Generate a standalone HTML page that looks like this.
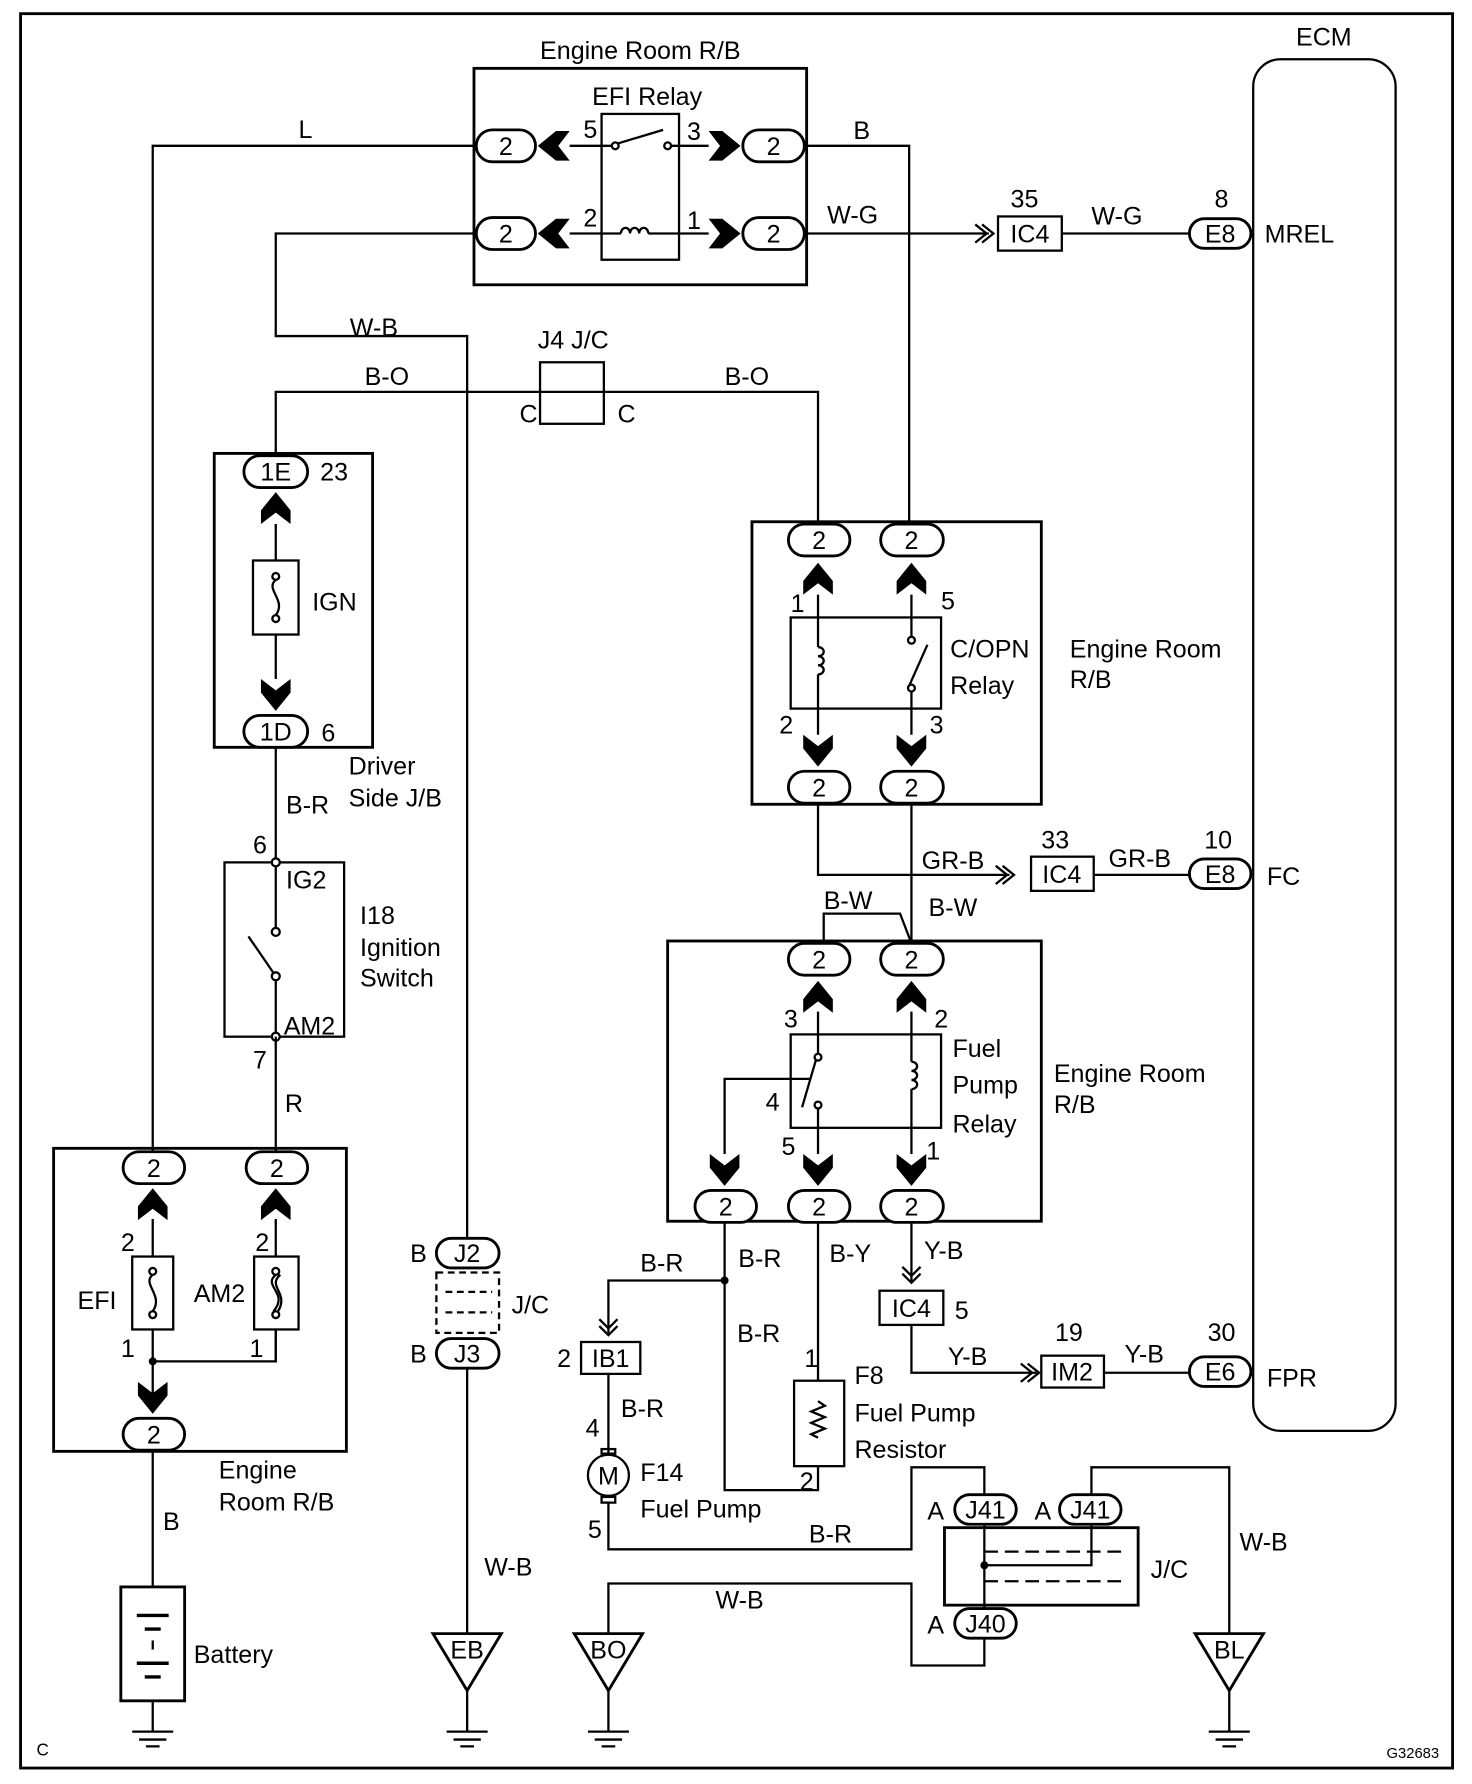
<!DOCTYPE html>
<html><head><meta charset="utf-8"><style>
html,body{margin:0;padding:0;background:#fff;}
svg{display:block}
text{font-family:"Liberation Sans",sans-serif;font-size:22px;fill:#000}
.m{text-anchor:middle}
</style></head><body>
<svg width="1472" height="1784" viewBox="0 0 1292 1566" xmlns="http://www.w3.org/2000/svg">
<defs>
<symbol id="cu" viewBox="-14 -14 28 28" overflow="visible"><polygon points="0,-14 -13,2 -13,14 0,4 13,14 13,2" fill="#000"/></symbol>
<symbol id="cd" viewBox="-14 -14 28 28" overflow="visible"><polygon points="0,14 -13,-2 -13,-14 0,-4 13,-14 13,-2" fill="#000"/></symbol>
<symbol id="cl" viewBox="-14 -14 28 28" overflow="visible"><polygon points="-14,0 2,-13 14,-13 4,0 14,13 2,13" fill="#000"/></symbol>
<symbol id="cr" viewBox="-14 -14 28 28" overflow="visible"><polygon points="14,0 -2,-13 -14,-13 -4,0 -14,13 -2,13" fill="#000"/></symbol>
</defs>
<g fill="none" stroke="#000" stroke-width="2">
<rect x="18" y="12" width="1257" height="1540" stroke-width="2.5"/>
<!-- ECM -->
<rect x="1100" y="52" width="125" height="1204" rx="24"/>
<!-- top EFI relay box -->
<rect x="416" y="60" width="292" height="190" stroke-width="2.5"/>
<rect x="528" y="100" width="68" height="128"/>
<line x1="500" y1="128" x2="537" y2="128"/><circle cx="540" cy="128" r="3"/><line x1="542" y1="126" x2="582" y2="114"/><circle cx="586" cy="128" r="3"/><line x1="589" y1="128" x2="622" y2="128"/>
<line x1="500" y1="205" x2="545" y2="205"/><path d="M545 205 a4 5 0 0 1 8 0 a4 5 0 0 1 8 0 a4 5 0 0 1 8 0"/><line x1="569" y1="205" x2="622" y2="205"/>
<!-- wires top -->
<polyline points="418,128 134,128 134,1011"/>
<polyline points="418,205 242,205 242,295 410,295 410,1087"/>
<polyline points="706,128 798,128 798,460"/>
<polyline points="706,205 868,205"/>
<polyline points="856,197 866,205 856,213"/><polyline points="862,197 872,205 862,213"/>
<line x1="932" y1="205" x2="1044" y2="205"/>
<rect x="876" y="190" width="56" height="30"/>
<!-- J4 -->
<polyline points="242,400 242,344 718,344 718,460"/>
<rect x="474" y="318" width="56" height="54"/>
<!-- driver side J/B -->
<rect x="188" y="398" width="139" height="258" stroke-width="2.5"/>
<line x1="242" y1="460" x2="242" y2="596"/>
<rect x="222" y="492" width="40" height="65" fill="#fff"/>
<circle cx="242" cy="506" r="3"/><circle cx="242" cy="543" r="3"/><path d="M242 509 c-10 8 10 18 0 31"/>
<line x1="242" y1="656" x2="242" y2="757"/>
<!-- ignition switch -->
<rect x="197" y="757" width="105" height="153"/>
<line x1="242" y1="757" x2="242" y2="815"/><circle cx="242" cy="818" r="3.5"/>
<line x1="218" y1="822" x2="240" y2="854"/><circle cx="242" cy="857" r="3.5"/>
<line x1="242" y1="860" x2="242" y2="910"/>
<circle cx="242" cy="757" r="3.5" fill="#fff"/><circle cx="242" cy="910" r="3.5" fill="#fff"/>
<line x1="242" y1="910" x2="242" y2="1011"/>
<!-- left fuse block -->
<rect x="47" y="1008" width="257" height="266" stroke-width="2.5"/>
<line x1="134" y1="1070" x2="134" y2="1240"/><line x1="242" y1="1070" x2="242" y2="1195"/>
<rect x="116" y="1103" width="36" height="64" fill="#fff"/>
<circle cx="134" cy="1116" r="3"/><circle cx="134" cy="1154" r="3"/><path d="M134 1119 c-10 8 10 18 0 32"/>
<rect x="223" y="1103" width="39" height="64" fill="#fff"/>
<circle cx="242" cy="1116" r="3"/><circle cx="242" cy="1154" r="3"/><path d="M242 1119 c-12 10 12 16 -2 32 M246 1119 c-12 10 8 16 -2 32"/>
<polyline points="242,1167 242,1195 134,1195"/>
<line x1="134" y1="1273" x2="134" y2="1393"/>
<rect x="106" y="1393" width="56" height="100" stroke-width="2.5"/>
<line x1="120" y1="1418" x2="148" y2="1418" stroke-width="3"/><line x1="127" y1="1430" x2="141" y2="1430" stroke-width="3"/>
<line x1="134" y1="1440" x2="134" y2="1448"/>
<line x1="120" y1="1460" x2="148" y2="1460" stroke-width="3"/><line x1="127" y1="1472" x2="141" y2="1472" stroke-width="3"/>
<line x1="134" y1="1493" x2="134" y2="1520"/>
<!-- J2/J3 -->
<rect x="383" y="1117" width="55" height="53" stroke-dasharray="6,4"/>
<line x1="391" y1="1134" x2="432" y2="1134" stroke-dasharray="6,4"/><line x1="391" y1="1152" x2="432" y2="1152" stroke-dasharray="6,4"/>
<line x1="410" y1="1201" x2="410" y2="1434"/>
<!-- C/OPN relay box -->
<rect x="660" y="458" width="254" height="248" stroke-width="2.5"/>
<line x1="718" y1="522" x2="718" y2="645"/><line x1="800" y1="522" x2="800" y2="645"/>
<rect x="694" y="542" width="132" height="80" fill="#fff"/>
<line x1="718" y1="542" x2="718" y2="568"/><path d="M718 568 a5 4 0 0 1 0 8 a5 4 0 0 1 0 8 a5 4 0 0 1 0 8"/><line x1="718" y1="592" x2="718" y2="622"/>
<line x1="800" y1="542" x2="800" y2="559"/><circle cx="800" cy="562" r="3"/><line x1="798" y1="602" x2="814" y2="566"/><circle cx="800" cy="604" r="3"/><line x1="800" y1="607" x2="800" y2="622"/>
<polyline points="718,705 718,768 886,768"/>
<polyline points="874,760 884,768 874,776"/><polyline points="880,760 890,768 880,776"/>
<rect x="905" y="752" width="55" height="30"/>
<line x1="960" y1="768" x2="1044" y2="768"/>
<line x1="800" y1="705" x2="800" y2="828"/>
<polyline points="723,828 723,802 790,802 800,828"/>
<!-- fuel pump relay box -->
<rect x="586" y="826" width="328" height="246" stroke-width="2.5"/>
<line x1="718" y1="888" x2="718" y2="1013"/><line x1="800" y1="888" x2="800" y2="1013"/>
<rect x="694" y="908" width="132" height="82" fill="#fff"/>
<line x1="718" y1="908" x2="718" y2="925"/><circle cx="718" cy="928" r="3"/><line x1="704" y1="972" x2="716" y2="931"/><circle cx="718" cy="970" r="3"/><line x1="718" y1="973" x2="718" y2="990"/>
<polyline points="712,947 636,947 636,1013"/>
<line x1="800" y1="908" x2="800" y2="932"/><path d="M800 932 a5 4 0 0 1 0 8 a5 4 0 0 1 0 8 a5 4 0 0 1 0 8"/><line x1="800" y1="956" x2="800" y2="990"/>
<!-- below FP relay -->
<polyline points="636,1073 636,1308 718,1308 718,1287"/>
<polyline points="636,1124 534,1124 534,1172"/>
<polyline points="526,1158 534,1166 542,1158"/><polyline points="526,1164 534,1172 542,1164"/>
<rect x="510" y="1178" width="52" height="28"/>
<line x1="534" y1="1206" x2="534" y2="1277"/>
<circle cx="534" cy="1295" r="18"/>
<rect x="528" y="1272" width="12" height="4"/><rect x="528" y="1314" width="12" height="5"/>
<polyline points="534,1319 534,1360 800,1360 800,1288 864,1288 864,1312"/>
<line x1="718" y1="1073" x2="718" y2="1212"/>
<rect x="697" y="1212" width="44" height="75"/>
<path d="M718 1230 l6 4 l-12 5 l12 5 l-12 5 l12 5 l-12 5 l6 3"/>
<line x1="800" y1="1073" x2="800" y2="1126"/>
<polyline points="792,1112 800,1120 808,1112"/><polyline points="792,1118 800,1126 808,1118"/>
<rect x="772" y="1133" width="56" height="30"/>
<polyline points="800,1163 800,1205 910,1205"/>
<polyline points="896,1197 906,1205 896,1213"/><polyline points="902,1197 912,1205 902,1213"/>
<rect x="914" y="1190" width="55" height="28"/>
<line x1="969" y1="1205" x2="1044" y2="1205"/>
<!-- J/C bottom -->
<rect x="829" y="1341" width="170" height="68" stroke-width="2.5"/>
<line x1="864" y1="1338" x2="864" y2="1412"/>
<line x1="864" y1="1362" x2="990" y2="1362" stroke-dasharray="12,6"/>
<line x1="864" y1="1388" x2="990" y2="1388" stroke-dasharray="12,6"/>
<polyline points="958,1312 958,1288 1079,1288 1079,1434"/>
<polyline points="958,1338 958,1374 864,1374"/>
<polyline points="864,1438 864,1462 800,1462 800,1390 534,1390 534,1434"/>
<!-- triangles & grounds -->
<polygon points="380,1434 440,1434 410,1484" stroke-width="2.5"/>
<polygon points="504,1434 564,1434 534,1484" stroke-width="2.5"/>
<polygon points="1049,1434 1109,1434 1079,1484" stroke-width="2.5"/>
<line x1="410" y1="1484" x2="410" y2="1520"/><line x1="534" y1="1484" x2="534" y2="1520"/><line x1="1079" y1="1484" x2="1079" y2="1520"/>
<g stroke-width="2">
<path d="M116 1520h36M122 1527h24M128 1533h12"/>
<path d="M392 1520h36M398 1527h24M404 1533h12"/>
<path d="M516 1520h36M522 1527h24M528 1533h12"/>
<path d="M1061 1520h36M1067 1527h24M1073 1533h12"/>
</g>
<!-- pills -->
<g fill="#fff" stroke-width="2.5">
<rect x="418" y="114" width="52" height="28" rx="14"/><rect x="418" y="191" width="52" height="28" rx="14"/>
<rect x="652" y="114" width="54" height="28" rx="14"/><rect x="652" y="191" width="54" height="28" rx="14"/>
<rect x="1044" y="192" width="54" height="26" rx="13"/>
<rect x="214" y="400" width="56" height="28" rx="14"/><rect x="214" y="628" width="56" height="28" rx="14"/>
<rect x="108" y="1011" width="54" height="28" rx="14"/><rect x="216" y="1011" width="54" height="28" rx="14"/>
<rect x="108" y="1245" width="54" height="28" rx="14"/>
<rect x="383" y="1087" width="55" height="26" rx="13"/><rect x="383" y="1175" width="55" height="26" rx="13"/>
<rect x="692" y="460" width="54" height="28" rx="14"/><rect x="773" y="460" width="55" height="28" rx="14"/>
<rect x="692" y="677" width="54" height="28" rx="14"/><rect x="773" y="677" width="55" height="28" rx="14"/>
<rect x="1044" y="754" width="54" height="26" rx="13"/>
<rect x="692" y="828" width="54" height="28" rx="14"/><rect x="773" y="828" width="55" height="28" rx="14"/>
<rect x="610" y="1045" width="54" height="28" rx="14"/><rect x="692" y="1045" width="54" height="28" rx="14"/><rect x="773" y="1045" width="55" height="28" rx="14"/>
<rect x="1044" y="1191" width="54" height="26" rx="13"/>
<rect x="838" y="1312" width="54" height="26" rx="13"/><rect x="930" y="1312" width="54" height="26" rx="13"/>
<rect x="838" y="1412" width="54" height="26" rx="13"/>
</g>
</g>
<g fill="#000">
<circle cx="134" cy="1195" r="3.5"/><circle cx="636" cy="1124" r="3.5"/><circle cx="864" cy="1374" r="3.5"/>
</g>
<!-- chevrons -->
<use href="#cl" x="472" y="114" width="28" height="28"/><use href="#cl" x="472" y="191" width="28" height="28"/>
<use href="#cr" x="622" y="114" width="28" height="28"/><use href="#cr" x="622" y="191" width="28" height="28"/>
<use href="#cu" x="228" y="432" width="28" height="28"/><use href="#cd" x="228" y="596" width="28" height="28"/>
<use href="#cu" x="120" y="1043" width="28" height="28"/><use href="#cu" x="228" y="1043" width="28" height="28"/>
<use href="#cd" x="120" y="1213" width="28" height="28"/>
<use href="#cu" x="704" y="494" width="28" height="28"/><use href="#cu" x="786" y="494" width="28" height="28"/>
<use href="#cd" x="704" y="645" width="28" height="28"/><use href="#cd" x="786" y="645" width="28" height="28"/>
<use href="#cu" x="704" y="861" width="28" height="28"/><use href="#cu" x="786" y="861" width="28" height="28"/>
<use href="#cd" x="622" y="1013" width="28" height="28"/><use href="#cd" x="704" y="1013" width="28" height="28"/><use href="#cd" x="786" y="1013" width="28" height="28"/>
<!-- pill labels -->
<g class="m">
<text x="444" y="136" class="m">2</text><text x="444" y="213" class="m">2</text>
<text x="679" y="136" class="m">2</text><text x="679" y="213" class="m">2</text>
<text x="1071" y="213" class="m">E8</text>
<text x="242" y="422" class="m">1E</text><text x="242" y="650" class="m">1D</text>
<text x="135" y="1033" class="m">2</text><text x="243" y="1033" class="m">2</text>
<text x="135" y="1267" class="m">2</text>
<text x="410" y="1108" class="m">J2</text><text x="410" y="1196" class="m">J3</text>
<text x="719" y="482" class="m">2</text><text x="800" y="482" class="m">2</text>
<text x="719" y="699" class="m">2</text><text x="800" y="699" class="m">2</text>
<text x="1071" y="775" class="m">E8</text>
<text x="719" y="850" class="m">2</text><text x="800" y="850" class="m">2</text>
<text x="637" y="1067" class="m">2</text><text x="719" y="1067" class="m">2</text><text x="800" y="1067" class="m">2</text>
<text x="1071" y="1212" class="m">E6</text>
<text x="865" y="1333" class="m">J41</text><text x="957" y="1333" class="m">J41</text>
<text x="865" y="1433" class="m">J40</text>
<text x="904" y="213" class="m">IC4</text><text x="932" y="775" class="m">IC4</text>
<text x="800" y="1156" class="m">IC4</text><text x="941" y="1212" class="m">IM2</text>
<text x="536" y="1200" class="m">IB1</text>
<text x="534" y="1303" class="m">M</text>
<text x="410" y="1456" class="m">EB</text><text x="534" y="1456" class="m">BO</text><text x="1079" y="1456" class="m">BL</text>
</g>
<!-- labels -->
<text x="562" y="52" class="m">Engine Room R/B</text>
<text x="568" y="92" class="m">EFI Relay</text>
<text x="1162" y="40" class="m">ECM</text>
<text x="512" y="121">5</text><text x="603" y="123">3</text><text x="512" y="199">2</text><text x="603" y="201">1</text>
<text x="262" y="121">L</text><text x="749" y="122">B</text>
<text x="726" y="196">W-G</text><text x="958" y="197">W-G</text>
<text x="887" y="182">35</text><text x="1066" y="182">8</text><text x="1110" y="213">MREL</text>
<text x="307" y="295">W-B</text>
<text x="472" y="306">J4 J/C</text>
<text x="320" y="338">B-O</text><text x="636" y="338">B-O</text>
<text x="456" y="371">C</text><text x="542" y="371">C</text>
<text x="281" y="422">23</text><text x="274" y="536">IGN</text><text x="282" y="651">6</text>
<text x="306" y="680">Driver</text><text x="306" y="708">Side J/B</text><text x="251" y="714">B-R</text>
<text x="222" y="749">6</text><text x="251" y="780">IG2</text>
<text x="316" y="811">I18</text><text x="316" y="839">Ignition</text><text x="316" y="866">Switch</text>
<text x="249" y="908">AM2</text><text x="222" y="938">7</text><text x="250" y="976">R</text>
<text x="106" y="1098">2</text><text x="224" y="1098">2</text>
<text x="68" y="1149">EFI</text><text x="170" y="1143">AM2</text>
<text x="106" y="1191">1</text><text x="219" y="1191">1</text>
<text x="192" y="1298">Engine</text><text x="192" y="1326">Room R/B</text>
<text x="143" y="1343">B</text><text x="170" y="1460">Battery</text>
<text x="360" y="1108">B</text><text x="360" y="1196">B</text><text x="449" y="1153">J/C</text>
<text x="425" y="1383">W-B</text>
<text x="694" y="537">1</text><text x="826" y="535">5</text>
<text x="834" y="577">C/OPN</text><text x="834" y="609">Relay</text>
<text x="939" y="577">Engine Room</text><text x="939" y="604">R/B</text>
<text x="684" y="644">2</text><text x="816" y="644">3</text>
<text x="809" y="763">GR-B</text><text x="973" y="761">GR-B</text>
<text x="914" y="745">33</text><text x="1057" y="745">10</text><text x="1112" y="777">FC</text>
<text x="723" y="798">B-W</text><text x="815" y="804">B-W</text>
<text x="688" y="902">3</text><text x="820" y="902">2</text>
<text x="836" y="928">Fuel</text><text x="836" y="960">Pump</text><text x="836" y="994">Relay</text>
<text x="925" y="950">Engine Room</text><text x="925" y="977">R/B</text>
<text x="672" y="975">4</text><text x="686" y="1014">5</text><text x="813" y="1018">1</text>
<text x="562" y="1116">B-R</text><text x="648" y="1112">B-R</text><text x="728" y="1108">B-Y</text><text x="811" y="1105">Y-B</text>
<text x="838" y="1158">5</text>
<text x="647" y="1178">B-R</text><text x="489" y="1200">2</text>
<text x="545" y="1244">B-R</text>
<text x="832" y="1198">Y-B</text><text x="987" y="1196">Y-B</text>
<text x="926" y="1177">19</text><text x="1060" y="1177">30</text><text x="1112" y="1217">FPR</text>
<text x="706" y="1200">1</text><text x="750" y="1215">F8</text>
<text x="750" y="1248">Fuel Pump</text><text x="750" y="1280">Resistor</text>
<text x="702" y="1308">2</text>
<text x="514" y="1261">4</text><text x="516" y="1350">5</text>
<text x="562" y="1300">F14</text><text x="562" y="1332">Fuel Pump</text>
<text x="710" y="1354">B-R</text>
<text x="814" y="1334">A</text><text x="908" y="1334">A</text><text x="814" y="1434">A</text>
<text x="1010" y="1385">J/C</text><text x="1088" y="1361">W-B</text>
<text x="628" y="1412">W-B</text>
<text x="32" y="1541" style="font-size:15px">C</text>
<text x="1217" y="1543" style="font-size:13px">G32683</text>
</svg>
</body></html>
